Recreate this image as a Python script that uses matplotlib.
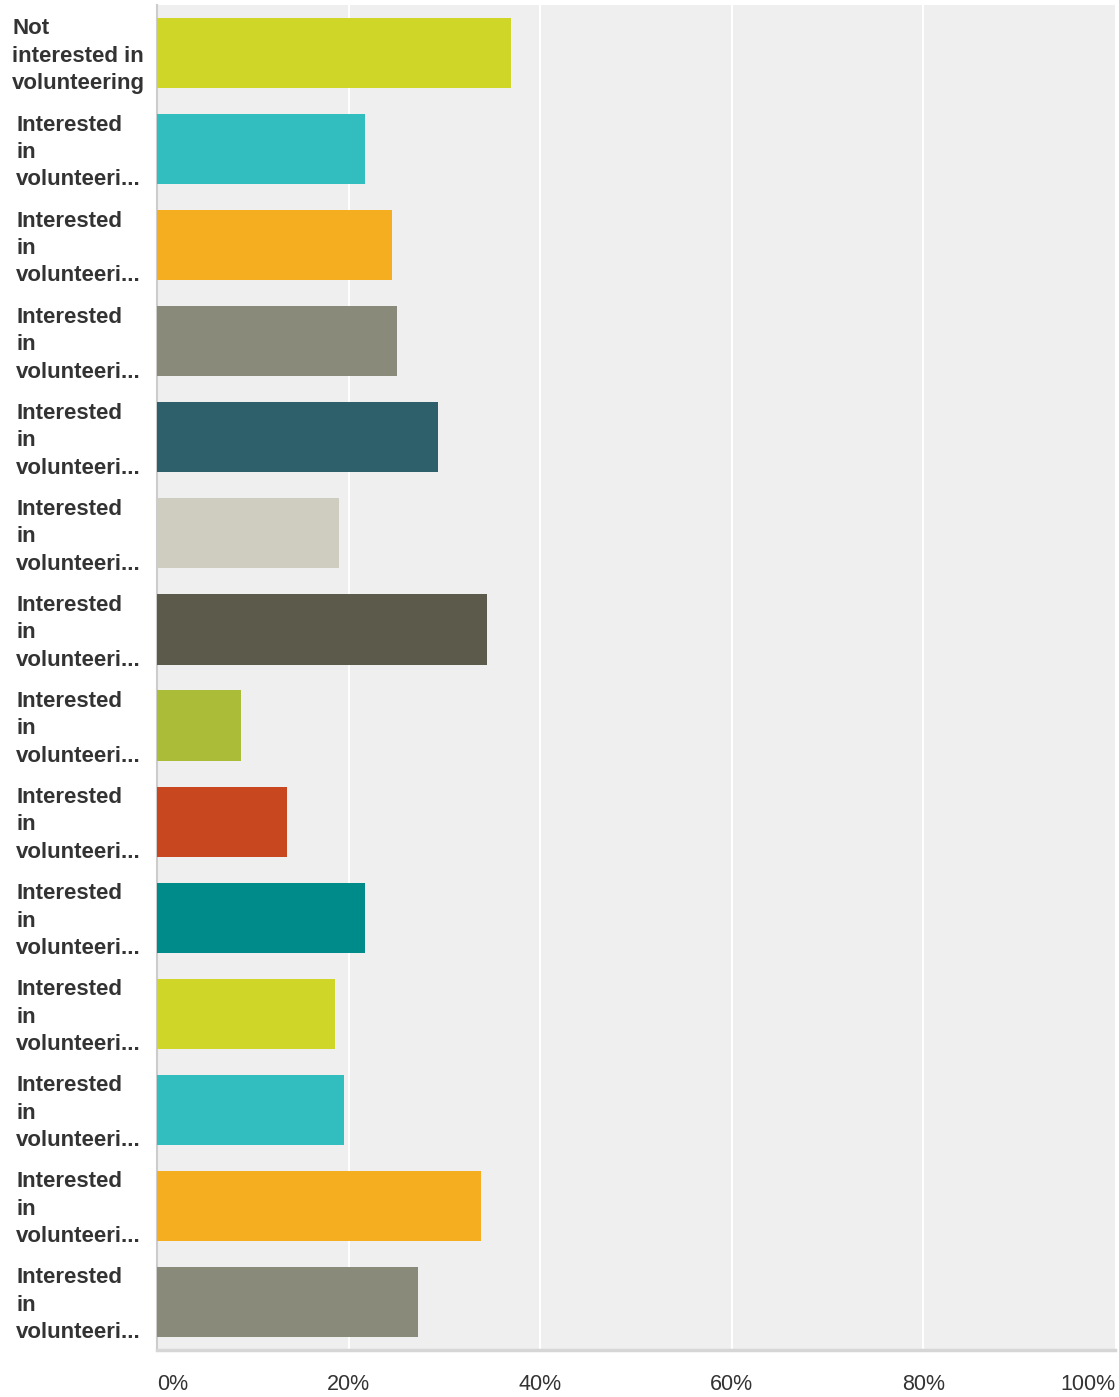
import matplotlib.pyplot as plt
from matplotlib.transforms import blended_transform_factory

labels = ['Not\ninterested in\nvolunteering'] + ['Interested\nin\nvolunteeri...'] * 13
values = [37.0, 21.7, 24.5, 25.0, 29.3, 19.0, 34.4, 8.8, 13.6, 21.7, 18.6, 19.5, 33.8, 27.2]
palette = ['#d0d628', '#32bdbf', '#f5ae1f', '#898a79', '#2e606c', '#cfcdc0', '#5b5a4b',
           '#abbc39', '#c9471f', '#008b8b']
colors = [palette[i % len(palette)] for i in range(len(values))]
ticks = [0, 20, 40, 60, 80, 100]
tick_labels = ['0%', '20%', '40%', '60%', '80%', '100%']

W, H = 1119, 1397
fig = plt.figure(figsize=(W / 100, H / 100), dpi=100)
ax = fig.add_axes([157 / W, 1 - 1350 / H, (1115 - 157) / W, (1350 - 5) / H])
ax.set_facecolor('#efefef')

rows = list(range(len(values)))
ax.barh(rows, values, height=0.73, color=colors, zorder=3)
ax.set_xlim(0, 100)
ax.set_ylim(len(values) - 0.5, -0.5)

for t in ticks[1:-1]:
    ax.axvline(t, color='white', lw=1.5, zorder=1)

for s in ['top', 'right']:
    ax.spines[s].set_visible(False)
ax.spines['left'].set_color('#cccccc')
ax.spines['left'].set_linewidth(1.5)
ax.spines['bottom'].set_color('#d6d6d6')
ax.spines['bottom'].set_linewidth(2.5)

ax.set_yticks([])
ax.set_xticks([])
for t, lab in zip(ticks, tick_labels):
    ha = 'left' if t == 0 else ('right' if t == 100 else 'center')
    ax.text(t, -35 / 1345, lab, transform=blended_transform_factory(ax.transData, ax.transAxes),
            ha=ha, va='center', fontsize=15.5, color='#333333', family='Liberation Sans')

# labels sit a few pixels below the bar centre in the reference
tr = blended_transform_factory(fig.transFigure, ax.transData)
for i, lab in enumerate(labels):
    x = 12 / W if i == 0 else 16 / W
    ax.text(x, i + 0.035, lab, transform=tr, ha='left', va='center', fontsize=16, fontweight='bold',
            color='#333333', family='Liberation Sans', linespacing=1.4)

fig.savefig('out.png', dpi=100)
